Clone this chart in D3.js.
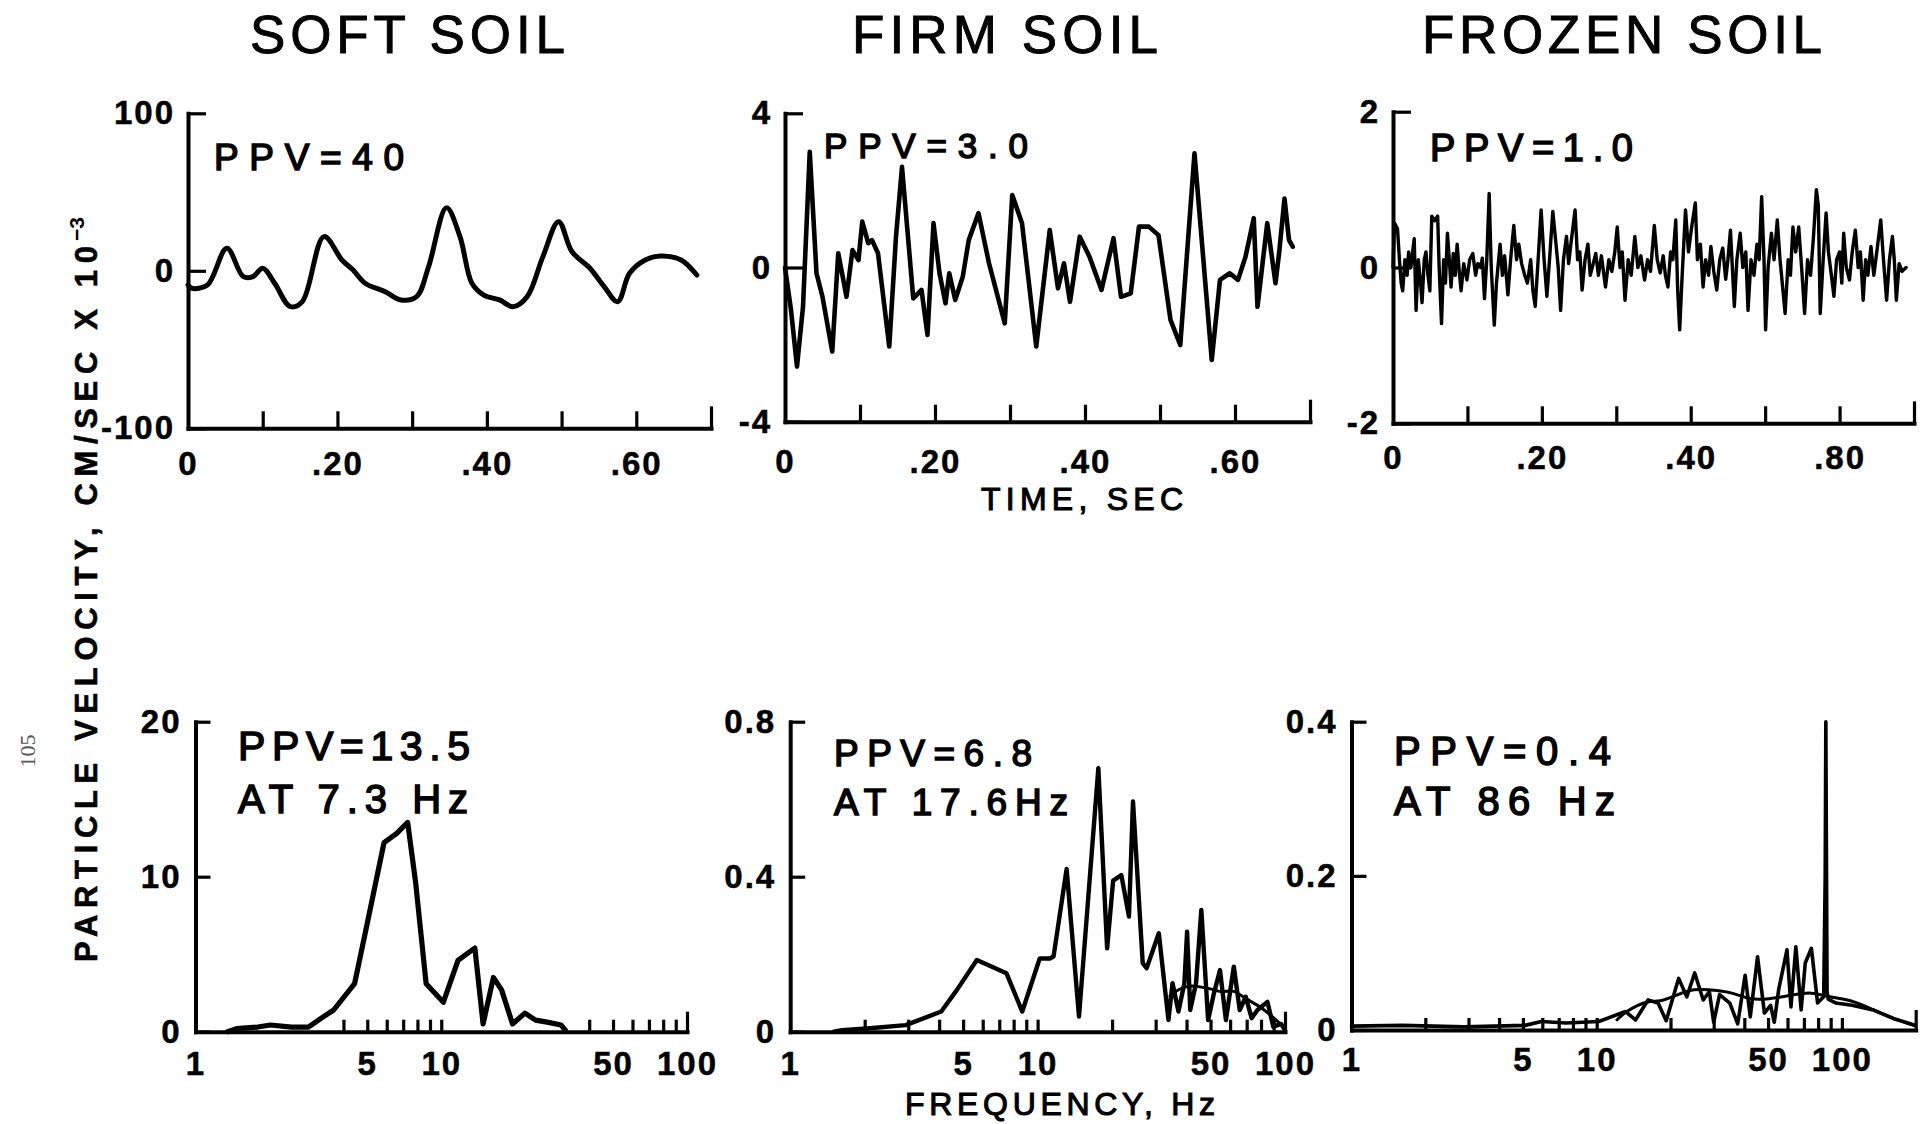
<!DOCTYPE html>
<html>
<head>
<meta charset="utf-8">
<script src="https://cdn.jsdelivr.net/npm/d3@7"></script>
<style>
  body { margin: 0; background: #fff; }
  svg { display: block; }
</style>
</head>
<body>
<svg id="chart" width="1921" height="1124"></svg>
<script>
// ---------- data ----------
// Particle velocity time histories: [time (s), velocity]
const softTime = [
  [0.0,-9],[0.005,-11.1],[0.026,-9.0],[0.052,14.3],[0.074,-3.7],[0.087,-3.7],[0.100,1.6],
  [0.116,-7.9],[0.137,-22.8],[0.153,-19.6],[0.182,21.7],[0.206,6.9],[0.221,0.5],[0.237,-7.9],
  [0.264,-13.3],[0.285,-18.5],[0.306,-16.4],[0.322,2.6],[0.346,40],[0.364,21.7],[0.380,-7.9],
  [0.396,-15.4],[0.417,-18.5],[0.435,-22.8],[0.454,-16.4],[0.475,9.0],[0.496,31.2],[0.514,12.1],
  [0.538,1.6],[0.557,-10.1],[0.575,-19.6],[0.591,-1.6],[0.612,6.9],[0.633,9.4],[0.660,6.9],[0.681,-2.7]
];
const firmTime = [
  [0,0],[0.008,-1.10],[0.016,-2.57],[0.024,-1.02],[0.033,3.0],[0.042,-0.15],[0.050,-0.76],
  [0.063,-2.18],[0.071,0.37],[0.082,-0.76],[0.090,0.45],[0.098,0.19],[0.103,1.19],[0.111,0.63],
  [0.116,0.71],[0.124,0.37],[0.139,-2.05],[0.148,0.80],[0.156,2.61],[0.171,-0.80],[0.182,-0.58],
  [0.190,-1.75],[0.198,1.15],[0.206,-0.15],[0.214,-0.93],[0.219,-0.15],[0.227,-0.84],[0.237,-0.24],
  [0.245,0.71],[0.258,1.41],[0.272,0.11],[0.293,-1.45],[0.303,1.88],[0.316,1.15],[0.335,-2.05],
  [0.353,0.97],[0.364,-0.54],[0.372,0.11],[0.380,-0.89],[0.393,0.80],[0.406,0.28],[0.422,-0.58],
  [0.438,0.76],[0.448,-0.76],[0.461,-0.67],[0.472,1.06],[0.485,1.06],[0.498,0.84],[0.514,-1.36],
  [0.527,-2.01],[0.546,2.96],[0.569,-2.40],[0.580,-0.32],[0.593,-0.15],[0.604,-0.32],[0.614,0.28],
  [0.625,1.28],[0.630,-1.02],[0.643,1.15],[0.654,-0.41],[0.659,0.41],[0.666,1.79],[0.672,0.71],[0.677,0.54]
];
const frozenTime = [
  [0,0.0],[0.002,0.57],[0.006,0.5],[0.009,0.05],[0.011,-0.2],[0.013,-0.3],[0.016,0.1],[0.019,-0.1],
  [0.021,0.2],[0.024,0.0],[0.027,0.25],[0.0285,0.37],[0.031,-0.55],[0.034,0.1],[0.037,-0.2],[0.039,-0.45],
  [0.042,0.1],[0.0443,0.2],[0.047,-0.1],[0.0495,-0.3],[0.0521,0.66],[0.056,0.6],[0.06,0.66],[0.062,0.0],
  [0.0652,-0.72],[0.068,0.1],[0.0705,-0.2],[0.0731,0.44],[0.076,0.05],[0.078,-0.25],[0.081,0.18],
  [0.0836,-0.1],[0.0862,0.3],[0.089,-0.05],[0.0915,-0.3],[0.095,0.05],[0.0993,-0.16],[0.103,0.1],
  [0.1072,0.18],[0.111,-0.1],[0.114,0.05],[0.1177,0.0],[0.12,0.12],[0.1229,-0.4],[0.126,0.1],
  [0.1292,0.95],[0.132,0.0],[0.1361,-0.74],[0.139,-0.2],[0.1439,0.3],[0.147,-0.1],[0.150,0.15],
  [0.1544,-0.35],[0.158,0.1],[0.1623,0.54],[0.166,0.1],[0.169,0.3],[0.1728,0.05],[0.177,-0.1],
  [0.1806,-0.2],[0.185,0.1],[0.188,-0.3],[0.1911,-0.5],[0.195,0.1],[0.199,0.74],[0.203,0.1],
  [0.2068,-0.37],[0.211,0.2],[0.2147,0.72],[0.219,0.3],[0.222,0.0],[0.2252,-0.55],[0.229,0.1],
  [0.2331,0.4],[0.236,0.05],[0.239,0.3],[0.2446,0.74],[0.248,0.1],[0.251,0.2],[0.2541,-0.29],
  [0.258,0.1],[0.2619,0.3],[0.265,-0.1],[0.269,0.05],[0.2724,0.18],[0.276,-0.1],[0.28,0.15],
  [0.2855,-0.25],[0.29,0.1],[0.294,-0.05],[0.298,0.2],[0.3013,0.52],[0.305,0.0],[0.308,0.2],
  [0.3117,-0.42],[0.316,0.1],[0.32,-0.1],[0.3249,0.4],[0.329,0.0],[0.333,0.15],[0.338,-0.16],
  [0.342,0.1],[0.346,-0.05],[0.3511,0.54],[0.355,0.1],[0.359,-0.07],[0.363,0.15],[0.366,-0.1],
  [0.3694,-0.25],[0.373,0.2],[0.376,0.1],[0.3799,0.61],[0.3825,-0.3],[0.3852,-0.8],[0.388,-0.2],
  [0.393,0.74],[0.397,0.2],[0.401,0.5],[0.4062,0.83],[0.409,0.1],[0.413,0.3],[0.4166,-0.25],
  [0.42,0.1],[0.424,-0.1],[0.4271,0.27],[0.431,-0.05],[0.435,-0.29],[0.439,0.1],[0.443,0.25],
  [0.447,-0.15],[0.45,0.1],[0.4534,0.48],[0.4586,-0.5],[0.462,0.1],[0.4665,0.44],[0.47,0.0],
  [0.474,0.2],[0.477,-0.55],[0.481,0.1],[0.485,-0.1],[0.489,0.3],[0.492,0.1],[0.4953,0.91],
  [0.4985,0.1],[0.5006,-0.8],[0.504,0.0],[0.5084,0.44],[0.512,0.1],[0.5163,0.61],[0.52,0.1],
  [0.523,-0.2],[0.5268,-0.59],[0.531,0.1],[0.534,-0.1],[0.5373,0.52],[0.541,0.2],[0.5451,0.52],
  [0.549,0.0],[0.553,-0.59],[0.557,0.1],[0.561,-0.1],[0.565,0.4],[0.5688,1.0],[0.5714,0.8],
  [0.574,-0.59],[0.578,0.1],[0.5819,0.70],[0.585,0.2],[0.589,-0.1],[0.5924,-0.37],[0.596,0.1],
  [0.60,0.2],[0.603,-0.2],[0.6055,0.44],[0.609,0.0],[0.6133,-0.16],[0.617,0.2],[0.6212,0.48],
  [0.625,0.0],[0.628,0.2],[0.6317,-0.42],[0.635,0.1],[0.638,-0.1],[0.6422,0.27],[0.646,-0.1],
  [0.65,0.2],[0.6553,0.61],[0.659,0.1],[0.6632,-0.42],[0.667,0.1],[0.671,0.40],[0.6735,0.1],
  [0.6763,-0.42],[0.68,0.05],[0.684,-0.05],[0.6894,0.0]
];

// Fourier amplitude spectra: [frequency (Hz), amplitude]
const softSpectrum = [
  [1.35,0.0],[1.47,0.2],[1.79,0.3],[2.02,0.43],[2.46,0.3],[2.88,0.3],[3.24,0.86],[3.65,1.4],
  [4.44,3.1],[5.0,7.0],[5.85,12.2],[6.59,12.8],[7.3,13.5],[7.87,9.6],[8.68,3.1],[10.2,1.9],
  [11.7,4.6],[13.7,5.4],[14.8,0.5],[16.3,3.5],[17.6,2.7],[19.5,0.5],[21.9,1.2],[24.2,0.75],
  [27.3,0.6],[30.7,0.43],[32,0.1]
];
const firmSpectrum = [
  [1.5,0.0],[1.62,0.004],[2.1,0.009],[2.93,0.017],[4.08,0.052],[4.72,0.108],[5.68,0.185],
  [7.48,0.151],[8.67,0.052],[10.2,0.189],[11.2,0.189],[11.6,0.194],[13.1,0.42],[14.7,0.039],
  [17.6,0.68],[19.1,0.215],[20.2,0.39],[21.8,0.404],[23.4,0.297],[24.3,0.594],[26.6,0.177],
  [27.6,0.164],[30.9,0.254],[33.8,0.03],[35.1,0.125],[37.1,0.052],[39.2,0.125],[40.2,0.258],
  [41.4,0.056],[43.7,0.125],[45.9,0.314],[48.9,0.03],[51.6,0.099],[54.6,0.159],[57.7,0.03],
  [62.1,0.168],[65.6,0.056],[69.4,0.09],[73.3,0.035],[77.4,0.056],[84.9,0.077],[89.7,0.013],
  [96.5,0.02],[100,0.004]
];
// upper edge of the dense band above 35 Hz
const firmSpectrumBand = [
  [34,0.09],[37,0.11],[41,0.12],[46,0.115],[51,0.11],[56,0.1],[62,0.11],[69,0.085],[77,0.07],
  [85,0.05],[92,0.03],[100,0.01]
];
const frozenSpectrum = [
  [1.0,0.005],[1.62,0.006],[2.88,0.004],[5.1,0.006],[5.96,0.011],[7.5,0.009],[10.2,0.011],
  [13.1,0.024],[14.4,0.013],[16.2,0.039],[17.8,0.035],[19.2,0.012],[21.6,0.067],[23.3,0.043],
  [25.1,0.074],[27.2,0.039],[28.8,0.05],[30,0.01],[31.7,0.046],[34.9,0.035],[37.6,0.008],
  [40.3,0.071],[42.3,0.017],[45.3,0.095],[48.3,0.022],[51.2,0.032],[53,0.01],[55.2,0.052],
  [59.7,0.104],[62,0.03],[64.9,0.108],[68.2,0.026],[70.9,0.087],[75.1,0.106],[79.6,0.035],
  [84.3,0.043],[85.5,0.2],[86,0.4],[87,0.05],[88,0.04],[94.6,0.035],[110,0.032],[134,0.026],
  [162,0.015],[196,0.007]
];
const frozenSpectrumSmooth = [
  [12,0.012],[13.1,0.024],[16.2,0.039],[18,0.036],[21,0.045],[25,0.054],[28.8,0.052],[34.9,0.05],
  [42.3,0.039],[50,0.04],[62,0.045],[75,0.05],[90,0.042],[110,0.039],[134,0.026],[162,0.015],[200,0.005]
];

// axis ticks and labels
const timeTicks = [0.1, 0.2, 0.3, 0.4, 0.5, 0.6, 0.7];
const timeLabelTicks = [0, 0.2, 0.4, 0.6];
const softTimeLabels = ["0", ".20", ".40", ".60"];
const firmTimeLabels = ["0", ".20", ".40", ".60"];
const frozenTimeLabels = ["0", ".20", ".40", ".80"];
const softVelTicks = [100, 0, -100];
const firmVelTicks = [4, 0, -4];
const frozenVelTicks = [2, 0, -2];
const softVelLabels = ["100", "0", "-100"];
const firmVelLabels = ["4", "0", "-4"];
const frozenVelLabels = ["2", "0", "-2"];

const softFreqTicks = [4, 5, 6, 7, 8, 9, 10, 40, 50, 60, 70, 80, 90, 100];
const firmFreqTicks = [2, 3, 4, 5, 6, 7, 8, 9, 10, 20, 30, 40, 50, 60, 70, 80, 90, 100];
const frozenFreqTicks = [2, 3, 4, 5, 6, 7, 8, 9, 10, 20, 30, 40, 50, 60, 70, 80, 90, 100, 200];
const freqLabelTicks = [1, 5, 10, 50, 100];
const freqLabels = ["1", "5", "10", "50", "100"];
const softAmpTicks = [0, 10, 20];
const firmAmpTicks = [0, 0.4, 0.8];
const frozenAmpTicks = [0, 0.2, 0.4];
const softAmpLabels = ["0", "10", "20"];
const firmAmpLabels = ["0", "0.4", "0.8"];
const frozenAmpLabels = ["0", "0.2", "0.4"];

const soilTitles = ["SOFT SOIL", "FIRM SOIL", "FROZEN SOIL"];
const timeNotes = ["PPV=40", "PPV=3.0", "PPV=1.0"];
const spectrumNotes = [["PPV=13.5", "AT 7.3 Hz"], ["PPV=6.8", "AT 17.6Hz"], ["PPV=0.4", "AT 86 Hz"]];

// ---------- drawing ----------
const svg = d3.select("#chart");
const FONT = "'Liberation Sans', Arial, sans-serif";
const INK = "#000";

svg.append("rect").attr("width", 1921).attr("height", 1124).attr("fill", "#fff");

function styleAxis(sel, fontSize) {
  sel.attr("font-family", FONT).attr("font-size", fontSize).attr("font-weight", "bold");
  sel.select(".domain").attr("stroke", INK).attr("stroke-width", 4).attr("stroke-linecap", "square");
  sel.selectAll(".tick line").attr("stroke", INK).attr("stroke-width", 3.2);
  sel.selectAll(".tick text").attr("fill", INK).attr("stroke", INK).attr("stroke-width", 0.5)
    .style("letter-spacing", "2px");
}

function addText(x, y, str, size, len, opts = {}) {
  return svg.append("text")
    .attr("x", x).attr("y", y)
    .attr("font-family", FONT)
    .attr("font-size", size)
    .attr("font-weight", opts.weight || "normal")
    .attr("fill", INK)
    .attr("stroke", INK)
    .attr("stroke-width", opts.stroke == null ? 1.5 : opts.stroke)
    .attr("textLength", len)
    .attr("lengthAdjust", "spacing")
    .text(str);
}

function drawTimePanel(p) {
  const x = d3.scaleLinear().domain([0, 0.7]).range([p.left, p.right]);
  const y = d3.scaleLinear().domain([-p.yMax, p.yMax]).range([p.bottom, p.top]);
  const g = svg.append("g");

  const tickAxis = g.append("g")
    .attr("transform", `translate(0,${p.bottom})`)
    .call(d3.axisBottom(x).tickValues(timeTicks).tickSizeInner(-17).tickSizeOuter(0).tickFormat(""));
  styleAxis(tickAxis, 33);
  tickAxis.selectAll(".tick").filter(d => d === 0.7).select("line").attr("y2", -22);

  const labAxis = g.append("g")
    .attr("transform", `translate(0,${p.bottom})`)
    .call(d3.axisBottom(x).tickValues(timeLabelTicks).tickSize(0).tickPadding(p.xPad)
      .tickFormat((d, i) => p.xLabels[i]));
  labAxis.select(".domain").remove();
  styleAxis(labAxis, 33);

  const yAxis = g.append("g")
    .attr("transform", `translate(${p.left},0)`)
    .call(d3.axisLeft(y).tickValues(p.yTicks).tickSizeInner(-18).tickSizeOuter(0).tickPadding(13)
      .tickFormat((d, i) => p.yLabels[i]));
  styleAxis(yAxis, 33);

  g.append("path")
    .datum(p.data)
    .attr("fill", "none")
    .attr("stroke", INK)
    .attr("stroke-width", p.lw)
    .attr("stroke-linejoin", "round")
    .attr("stroke-linecap", "round")
    .attr("d", d3.line().x(d => x(d[0])).y(d => y(d[1])).curve(p.curve));
}

function drawSpectrumPanel(p) {
  const x = d3.scaleLog().domain([1, p.fMax]).range([p.left, p.right]);
  const y = d3.scaleLinear().domain([0, p.yMax]).range([p.bottom, p.top]);
  const g = svg.append("g");

  const tickAxis = g.append("g")
    .attr("transform", `translate(0,${p.bottom})`)
    .call(d3.axisBottom(x).tickValues(p.xTicks).tickSizeInner(-12).tickSizeOuter(0).tickFormat(""));
  styleAxis(tickAxis, 33);
  tickAxis.selectAll(".tick").filter(d => d === p.fMax).select("line").attr("y2", -20);

  const labAxis = g.append("g")
    .attr("transform", `translate(0,${p.bottom})`)
    .call(d3.axisBottom(x).tickValues(freqLabelTicks).tickSize(0).tickPadding(p.xPad)
      .tickFormat((d, i) => freqLabels[i]));
  labAxis.select(".domain").remove();
  styleAxis(labAxis, 33);

  const yAxis = g.append("g")
    .attr("transform", `translate(${p.left},0)`)
    .call(d3.axisLeft(y).tickValues(p.yTicks).tickSizeInner(-15).tickSizeOuter(0).tickPadding(14)
      .tickFormat((d, i) => p.yLabels[i]));
  styleAxis(yAxis, 33);

  (p.extra || []).forEach(series => {
    g.append("path")
      .datum(series)
      .attr("fill", "none")
      .attr("stroke", INK)
      .attr("stroke-width", 3)
      .attr("stroke-linejoin", "round")
      .attr("d", d3.line().x(d => x(d[0])).y(d => y(d[1])).curve(d3.curveBasis));
  });

  g.append("path")
    .datum(p.data)
    .attr("fill", "none")
    .attr("stroke", INK)
    .attr("stroke-width", p.lw)
    .attr("stroke-linejoin", "round")
    .attr("stroke-linecap", "round")
    .attr("d", d3.line().x(d => x(d[0])).y(d => y(d[1])));
}

// time histories (top row)
drawTimePanel({ data: softTime, left: 188, right: 711, top: 113.3, bottom: 428.3, yMax: 100,
  yTicks: softVelTicks, yLabels: softVelLabels, xLabels: softTimeLabels, xPad: 23,
  lw: 5, curve: d3.curveCatmullRom });
drawTimePanel({ data: firmTime, left: 785, right: 1310, top: 113.3, bottom: 421.7, yMax: 4,
  yTicks: firmVelTicks, yLabels: firmVelLabels, xLabels: firmTimeLabels, xPad: 28,
  lw: 4.6, curve: d3.curveLinear });
drawTimePanel({ data: frozenTime, left: 1393, right: 1914, top: 111.7, bottom: 423.3, yMax: 2,
  yTicks: frozenVelTicks, yLabels: frozenVelLabels, xLabels: frozenTimeLabels, xPad: 22,
  lw: 3.4, curve: d3.curveLinear });

// spectra (bottom row)
drawSpectrumPanel({ data: softSpectrum, left: 195.5, right: 687, top: 721.7, bottom: 1031.7,
  fMax: 100, yMax: 20, xTicks: softFreqTicks, yTicks: softAmpTicks, yLabels: softAmpLabels,
  xPad: 20, lw: 5.2 });
drawSpectrumPanel({ data: firmSpectrum, left: 790.2, right: 1285, top: 721.7, bottom: 1031.7,
  fMax: 100, yMax: 0.8, xTicks: firmFreqTicks, yTicks: firmAmpTicks, yLabels: firmAmpLabels,
  xPad: 20, lw: 4.4, extra: [firmSpectrumBand] });
drawSpectrumPanel({ data: frozenSpectrum, left: 1351.5, right: 1915.7, top: 721.7, bottom: 1030,
  fMax: 200, yMax: 0.4, xTicks: frozenFreqTicks, yTicks: frozenAmpTicks, yLabels: frozenAmpLabels,
  xPad: 18, lw: 3.6, extra: [frozenSpectrumSmooth] });

// column titles
addText(250, 53, soilTitles[0], 53, 315, { stroke: 0.9 });
addText(852, 53, soilTitles[1], 53, 306, { stroke: 0.9 });
addText(1422, 53, soilTitles[2], 53, 400, { stroke: 0.9 });

// peak annotations
addText(214, 170, timeNotes[0], 37, 190);
addText(824, 158, timeNotes[1], 35, 204);
addText(1430, 161, timeNotes[2], 38, 203);
addText(238, 760, spectrumNotes[0][0], 41, 232);
addText(238, 813, spectrumNotes[0][1], 40, 230);
addText(834, 766, spectrumNotes[1][0], 37, 198);
addText(834, 815, spectrumNotes[1][1], 37, 234);
addText(1394, 765, spectrumNotes[2][0], 40, 217);
addText(1394, 815, spectrumNotes[2][1], 40, 221);

// axis titles
addText(981, 510, "TIME, SEC", 32, 202, { stroke: 1.1 });
addText(905, 1115, "FREQUENCY, Hz", 32, 310, { stroke: 1.1 });

// shared vertical axis title
const yTitle = svg.append("g").attr("transform", "translate(97,962) rotate(-90)");
yTitle.append("text")
  .attr("x", 0).attr("y", 0)
  .attr("font-family", FONT).attr("font-size", 31).attr("font-weight", "bold")
  .attr("fill", INK).attr("stroke", INK).attr("stroke-width", 0.6)
  .attr("textLength", 716).attr("lengthAdjust", "spacing")
  .text("PARTICLE VELOCITY, CM/SEC X 10");
yTitle.append("text")
  .attr("x", 721).attr("y", -13)
  .attr("font-family", FONT).attr("font-size", 21).attr("font-weight", "bold")
  .attr("fill", INK)
  .text("\u22123");

// page number
svg.append("text")
  .attr("transform", "translate(35,751) rotate(-90)")
  .attr("text-anchor", "middle")
  .attr("font-family", "'Liberation Serif', 'DejaVu Serif', serif")
  .attr("font-size", 22)
  .attr("fill", "#555")
  .text("105");
</script>
</body>
</html>
